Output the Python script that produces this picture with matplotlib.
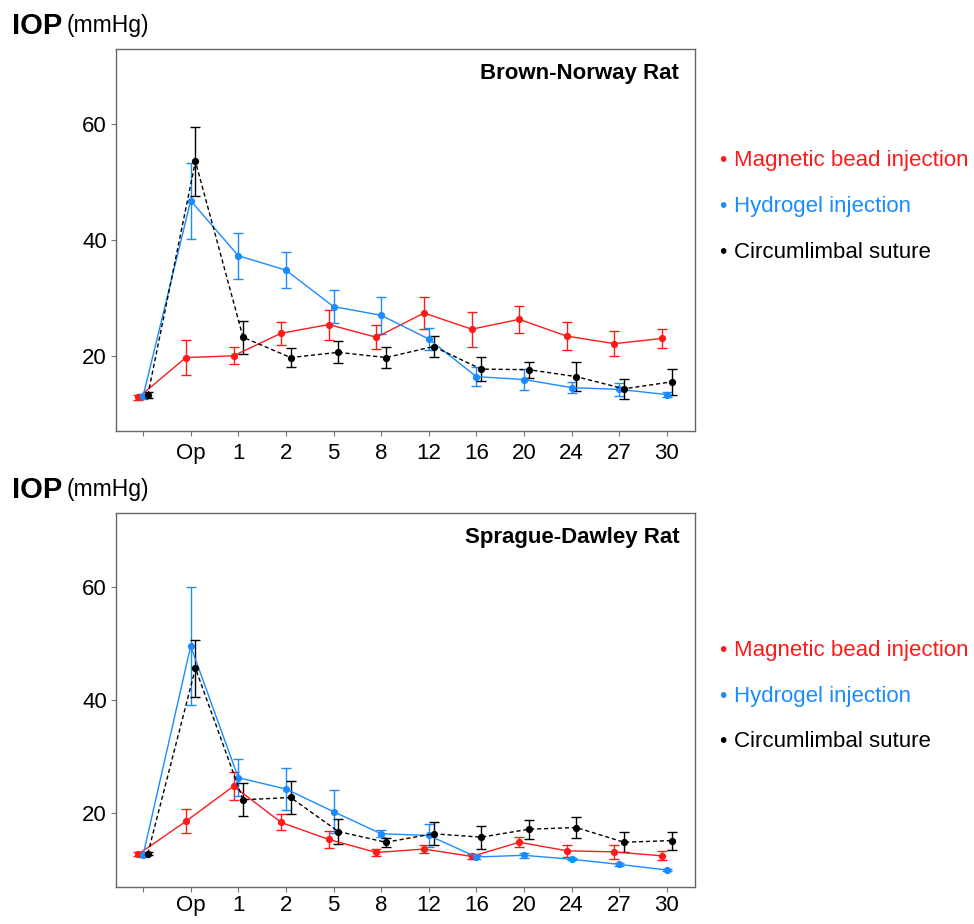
import numpy as np
import matplotlib
matplotlib.use("Agg")
import matplotlib.pyplot as plt

plt.rcParams['font.family'] = ['Liberation Sans', 'DejaVu Sans']

days = ['', 'Op', '1', '2', '5', '8', '12', '16', '20', '24', '27', '30']
series = ['Magnetic bead injection', 'Hydrogel injection', 'Circumlimbal suture']
colors = ['#ff1a1a', '#1a8cff', '#000000']

# Brown-Norway rat
bn_bead = [12.8, 19.7, 20.0, 23.9, 25.4, 23.2, 27.4, 24.6, 26.3, 23.4, 22.1, 23.0]
bn_bead_err = [0.4, 3.0, 1.5, 2.0, 2.6, 2.1, 2.8, 3.0, 2.3, 2.4, 2.2, 1.7]
bn_gel = [13.0, 46.8, 37.3, 34.8, 28.5, 27.0, 22.9, 16.4, 15.9, 14.5, 14.2, 13.3]
bn_gel_err = [0.4, 6.6, 4.0, 3.1, 2.9, 3.2, 1.9, 1.6, 1.8, 1.0, 1.1, 0.4]
bn_suture = [13.2, 53.6, 23.2, 19.7, 20.6, 19.7, 21.6, 17.7, 17.6, 16.4, 14.3, 15.5]
bn_suture_err = [0.5, 6.0, 2.9, 1.6, 1.9, 1.8, 1.8, 2.1, 1.4, 2.5, 1.7, 2.3]

# Sprague-Dawley rat
sd_bead = [12.8, 18.6, 24.8, 18.4, 15.4, 13.1, 13.7, 12.4, 14.9, 13.4, 13.2, 12.5]
sd_bead_err = [0.3, 2.1, 2.5, 1.4, 1.45, 0.6, 0.75, 0.5, 0.9, 1.05, 1.2, 0.8]
sd_gel = [12.6, 49.5, 26.3, 24.3, 20.3, 16.4, 16.1, 12.3, 12.6, 11.9, 11.0, 10.0]
sd_gel_err = [0.3, 10.4, 3.3, 3.7, 3.75, 0.65, 2.0, 0.3, 0.4, 0.2, 0.2, 0.2]
sd_suture = [12.9, 45.6, 22.4, 22.8, 16.8, 14.9, 16.4, 15.8, 17.2, 17.5, 14.9, 15.2]
sd_suture_err = [0.3, 5.0, 2.9, 2.9, 2.25, 0.8, 2.0, 2.0, 1.7, 1.9, 1.8, 1.6]

panels = [
    ('Brown-Norway Rat', [bn_bead, bn_gel, bn_suture], [bn_bead_err, bn_gel_err, bn_suture_err]),
    ('Sprague-Dawley Rat', [sd_bead, sd_gel, sd_suture], [sd_bead_err, sd_gel_err, sd_suture_err]),
]

fig = plt.figure(figsize=(9.74, 9.24), dpi=100)
x = np.arange(len(days))
offsets = [-0.1, 0.0, 0.1]
styles = ['-', '-', (0, (3, 2))]

axes_pos = [[0.119, 0.5335, 0.595, 0.4134], [0.119, 0.040, 0.595, 0.4048]]
header_y = [0.972, 0.470]
legend_y = [[0.826, 0.776, 0.727], [0.296, 0.246, 0.197]]
xpad = [5, 2]

for p, (title, vals, errs) in enumerate(panels):
    ax = fig.add_axes(axes_pos[p])
    for i in range(3):
        ax.errorbar(x + offsets[i], vals[i], yerr=errs[i], color=colors[i],
                    linestyle=styles[i], linewidth=1.0, marker='o', markersize=4.2,
                    capsize=3.8, elinewidth=1.0, capthick=1.0)
    ax.set_xlim(-0.57, 11.6)
    ax.set_ylim(7, 73)
    ax.set_yticks([20, 40, 60])
    ax.set_xticks(x)
    ax.set_xticklabels(days)
    ax.tick_params(labelsize=16, length=3.5, color='#777777')
    ax.tick_params(axis='x', pad=xpad[p])
    ax.tick_params(axis='y', pad=3)
    for s in ax.spines.values():
        s.set_color('#666666')
        s.set_linewidth(1.0)
    ax.text(0.972, 0.935, title, transform=ax.transAxes, ha='right', va='center',
            fontsize=16, fontweight='bold')

    fig.text(0.012, header_y[p], 'IOP', fontsize=21, fontweight='bold', va='center')
    fig.text(0.068, header_y[p], '(mmHg)', fontsize=16.5, va='center')

    for i in range(3):
        fig.text(0.738, legend_y[p][i], '\u2022', color=colors[i], fontsize=15, va='center')
        fig.text(0.754, legend_y[p][i], series[i], color=colors[i], fontsize=16, va='center')

fig.savefig('out.png', dpi=100)
